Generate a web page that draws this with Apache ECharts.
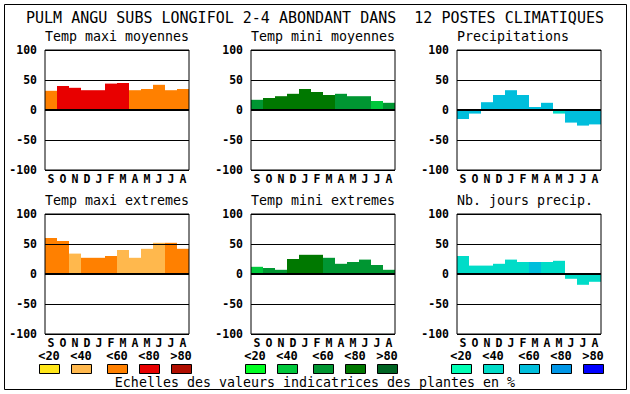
<!DOCTYPE html>
<html>
<head>
<meta charset="utf-8">
<script src="https://cdn.jsdelivr.net/npm/echarts@6/dist/echarts.min.js"></script>
<style>
html,body{margin:0;padding:0;background:#fff;}
#c{width:630px;height:394px;}
</style>
</head>
<body>
<div id="c"></div>
<script>
// ---- data ----
const months = ['S','O','N','D','J','F','M','A','M','J','J','A'];
const mainTitle = 'PULM ANGU SUBS LONGIFOL 2-4 ABONDANT DANS  12 POSTES CLIMATIQUES';
const panelTitles = ['Temp maxi moyennes','Temp mini moyennes','Precipitations',
                     'Temp maxi extremes','Temp mini extremes','Nb. jours precip.'];
const footer = 'Echelles des valeurs indicatrices des plantes en %';
const classLabels = ['<20','<40','<60','<80','>80'];
const yTicks = [-100, -50, 0, 50, 100];

const warmColors  = ['#FFE619','#FFB84D','#FF8000','#E80000','#B00E00'];
const greenColors = ['#00FF22','#00C83C','#009632','#007800','#006423'];
const blueColors  = ['#00FFB4','#00DCC8','#00BEDC','#0096E6','#0000FF'];

const maxiMoy     = [32,40,37,33,33,44,45,33,35,42,33,35];
const maxiMoyCls  = [2,3,3,3,3,3,3,2,2,2,2,2];
const miniMoy     = [17,20,23,27,35,30,25,27,23,23,15,12];
const miniMoyCls  = [2,3,3,3,3,3,3,2,2,2,1,2];
const precip      = [-15,-6,13,25,33,25,5,12,-6,-21,-26,-24];
const precipCls   = [2,2,2,2,2,2,2,2,1,2,2,2];
const maxiExt     = [60,55,34,27,27,30,40,27,42,52,52,42];
const maxiExtCls  = [2,2,1,2,2,2,1,1,1,1,2,2];
const miniExt     = [12,10,7,25,32,32,27,17,20,24,15,7];
const miniExtCls  = [1,2,2,3,3,3,2,2,2,2,2,2];
const nbJours     = [30,14,14,17,24,20,20,20,22,-8,-18,-13];
const nbJoursCls  = [1,1,1,1,1,1,2,1,1,1,1,1];

// ---- layout ----
const panels = [
  {vals: maxiMoy, cls: maxiMoyCls, pal: warmColors},
  {vals: miniMoy, cls: miniMoyCls, pal: greenColors},
  {vals: precip,  cls: precipCls,  pal: blueColors},
  {vals: maxiExt, cls: maxiExtCls, pal: warmColors},
  {vals: miniExt, cls: miniExtCls, pal: greenColors},
  {vals: nbJours, cls: nbJoursCls, pal: blueColors}
];
const colLeft = [45, 251, 457];
const rowTop = [50, 214];
const gw = 144, gh = 120;
const mono = 'DejaVu Sans Mono';

const grids = [], xAxes = [], yAxes = [], series = [], titles = [];
panels.forEach((p, i) => {
  const c = i % 3, r = Math.floor(i / 3);
  grids.push({left: colLeft[c], top: rowTop[r], width: gw, height: gh,
    show: true, borderColor: '#000', borderWidth: 1, z: 5, backgroundColor: 'transparent'});
  xAxes.push({type: 'category', gridIndex: i, data: months, boundaryGap: true,
    axisLine: {show: false}, axisTick: {show: false}, splitLine: {show: false},
    axisLabel: {interval: 0, margin: 3, color: '#000', fontFamily: mono, fontWeight: 'bold',
      fontSize: 11.5, lineHeight: 12}});
  yAxes.push({type: 'value', gridIndex: i, min: yTicks[0], max: yTicks[yTicks.length-1], interval: 50, z: 6,
    axisLine: {show: false}, axisTick: {show: false},
    splitLine: {show: true, lineStyle: {color: '#000', width: 1}},
    axisLabel: {margin: 8, color: '#000', fontFamily: mono, fontWeight: 'bold', fontSize: 11.5}});
  series.push({type: 'bar', xAxisIndex: i, yAxisIndex: i, barCategoryGap: '0%', z: 1,
    data: p.vals.map((v, k) => ({value: v, itemStyle: {color: p.pal[p.cls[k]]}})),
    markLine: {silent: true, symbol: ['none','none'], label: {show: false},
      lineStyle: {color: '#000', width: 2, type: 'solid'}, data: [{yAxis: 0}]}
  });
  titles.push({text: panelTitles[i], left: colLeft[c], top: rowTop[r] - 20, padding: 0,
    textStyle: {fontFamily: mono, fontWeight: 'normal', fontSize: 13.3, color: '#000'}});
});
titles.push({text: mainTitle, left: 'center', top: 10, padding: 0,
  textStyle: {fontFamily: mono, fontWeight: 'normal', fontSize: 15, color: '#000'}});

// colour scale legend graphics
const graphic = [];
graphic.push({type: 'rect', shape: {x: 4.5, y: 4.5, width: 622, height: 385},
  style: {fill: 'none', stroke: '#000', lineWidth: 1}});
const groupLeft = [39, 245, 451];
const boxOffsets = [0, 32, 68, 100, 132];
const pals = [warmColors, greenColors, blueColors];
groupLeft.forEach((gl, g) => {
  boxOffsets.forEach((o, k) => {
    graphic.push({type: 'rect', shape: {x: gl + o + 0.5, y: 364.5, width: 20, height: 9},
      style: {fill: pals[g][k], stroke: '#000', lineWidth: 1}});
    graphic.push({type: 'text', x: gl + o + 10, y: 355.5,
      style: {text: classLabels[k], fill: '#000', font: 'bold 12px "DejaVu Sans Mono"',
        textAlign: 'center', textVerticalAlign: 'middle'}});
  });
});
graphic.push({type: 'text', x: 315, y: 382,
  style: {text: footer, fill: '#000', font: '13.3px "DejaVu Sans Mono"',
    textAlign: 'center', textVerticalAlign: 'middle'}});

const chart = echarts.init(document.getElementById('c'), null, {renderer: 'svg'});
chart.setOption({
  animation: false,
  backgroundColor: '#fff',
  title: titles,
  grid: grids, xAxis: xAxes, yAxis: yAxes, series: series,
  graphic: graphic
});
</script>
</body>
</html>
